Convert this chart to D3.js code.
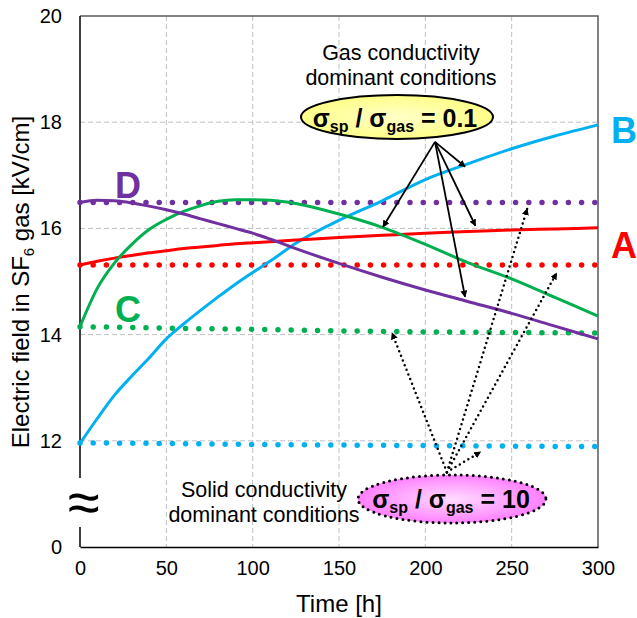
<!DOCTYPE html>
<html>
<head>
<meta charset="utf-8">
<script src="https://cdn.jsdelivr.net/npm/d3@7"></script>
<style>
  body { margin: 0; background: #fff; }
  svg { display: block; font-family: Arial, "Liberation Sans", sans-serif; }
  .grid line { stroke: #c0c0c0; stroke-dasharray: 5 3; stroke-width: 1; }
</style>
</head>
<body>
<svg id="chart" width="637" height="618"></svg>
<script>
// time axis [h]
const hours = [0, 10, 20, 30, 40, 50, 60, 70, 80, 90, 100, 110, 125, 150, 175, 200, 225, 250, 275, 300];
// solid curves: gas conductivity dominant (sigma_sp / sigma_gas = 0.1)
const seriesA = [15.31, 15.38, 15.44, 15.49, 15.54, 15.58, 15.62, 15.65, 15.68, 15.71, 15.73, 15.75, 15.78, 15.83, 15.87, 15.91, 15.94, 15.97, 15.99, 16.01];
const seriesB = [11.95, 12.42, 12.86, 13.22, 13.56, 13.92, 14.2, 14.46, 14.71, 14.95, 15.17, 15.38, 15.72, 16.15, 16.52, 16.92, 17.22, 17.5, 17.74, 17.95];
const seriesC = [14.15, 14.87, 15.35, 15.7, 15.98, 16.17, 16.32, 16.43, 16.51, 16.54, 16.54, 16.53, 16.47, 16.27, 16.02, 15.7, 15.35, 15.05, 14.7, 14.35];
const seriesD = [16.49, 16.53, 16.52, 16.48, 16.42, 16.35, 16.27, 16.18, 16.09, 16.0, 15.91, 15.8, 15.62, 15.34, 15.08, 14.84, 14.62, 14.4, 14.16, 13.92];
// dotted curves: solid conductivity dominant (sigma_sp / sigma_gas = 10)
const dotHours = [0, 50, 100, 150, 200, 250, 300];
const dottedA = [15.31, 15.31, 15.31, 15.31, 15.31, 15.31, 15.31];
const dottedB = [11.96, 11.95, 11.93, 11.92, 11.91, 11.9, 11.89];
const dottedC = [14.15, 14.12, 14.1, 14.07, 14.05, 14.04, 14.03];
const dottedD = [16.49, 16.49, 16.49, 16.49, 16.49, 16.49, 16.49];
// tick labels (the bottom of the y axis is broken, 10 is shown as 0)
const xTicks = [0, 50, 100, 150, 200, 250, 300];
const yTicks = [10, 12, 14, 16, 18, 20];
const yTickLabels = ["0", "12", "14", "16", "18", "20"];

const colors = { A: "#ff0000", B: "#00b0f0", C: "#00b050", D: "#7030a0" };

const svg = d3.select("#chart");
const plotLeft = 80, plotRight = 598, plotTop = 16, plotBottom = 547;

const x = d3.scaleLinear().domain([0, 300]).range([plotLeft, plotRight]);
const y = d3.scaleLinear().domain([10, 20]).range([plotBottom, plotTop]);

const defs = svg.append("defs");
defs.append("marker")
  .attr("id", "head")
  .attr("viewBox", "0 0 10 10")
  .attr("refX", 9).attr("refY", 5)
  .attr("markerWidth", 7).attr("markerHeight", 7)
  .attr("markerUnits", "userSpaceOnUse")
  .attr("orient", "auto")
  .append("path").attr("d", "M0,0 L10,5 L0,10 z").attr("fill", "#000");

const yellow = defs.append("radialGradient").attr("id", "yellowFill");
yellow.append("stop").attr("offset", "0%").attr("stop-color", "#ffffc8");
yellow.append("stop").attr("offset", "100%").attr("stop-color", "#ffff88");
const pink = defs.append("radialGradient").attr("id", "pinkFill");
pink.append("stop").attr("offset", "0%").attr("stop-color", "#ffdcff");
pink.append("stop").attr("offset", "100%").attr("stop-color", "#ff80ff");

// grid
svg.append("g").attr("class", "grid")
  .selectAll("line").data(xTicks.filter(d => d > 0 && d < 300)).join("line")
  .attr("x1", d => x(d)).attr("x2", d => x(d))
  .attr("y1", plotTop).attr("y2", plotBottom);
svg.append("g").attr("class", "grid")
  .selectAll("line").data(yTicks.filter(d => d > 10 && d < 20)).join("line")
  .attr("x1", plotLeft).attr("x2", plotRight)
  .attr("y1", d => y(d)).attr("y2", d => y(d));

// frame
svg.append("path")
  .attr("d", `M${plotLeft},${plotTop}H${plotRight}V${plotBottom}`)
  .attr("fill", "none").attr("stroke", "#595959").attr("stroke-width", 1.5);

// axes
const xAxis = svg.append("g")
  .attr("transform", `translate(0,${plotBottom})`)
  .call(d3.axisBottom(x).tickValues(xTicks).tickSize(0).tickPadding(14));
xAxis.select(".domain").attr("stroke", "#000").attr("stroke-width", 1.5);
xAxis.selectAll("text").attr("font-size", 20).attr("fill", "#000").attr("font-family", null);

const yAxis = svg.append("g")
  .attr("transform", `translate(${plotLeft},0)`)
  .call(d3.axisLeft(y).tickValues(yTicks).tickSize(0).tickPadding(18)
    .tickFormat((d, i) => yTickLabels[i]));
yAxis.select(".domain").remove();
yAxis.selectAll("text").attr("font-size", 20).attr("fill", "#000").attr("font-family", null);

// broken left axis line
const breakTop = 478, breakBottom = 527;
svg.append("path")
  .attr("d", `M${plotLeft},${plotTop}V${breakTop}M${plotLeft},${breakBottom}V${plotBottom}`)
  .attr("stroke", "#000").attr("stroke-width", 1.5);
svg.append("text")
  .attr("x", plotLeft + 4).attr("y", (breakTop + breakBottom) / 2 + 19)
  .attr("text-anchor", "middle")
  .attr("font-size", 58)
  .text("\u2248");

// dotted lines first, solid curves on top
const line = (xs) => d3.line().x((d, i) => x(xs[i])).y(d => y(d));

[[dottedD, colors.D], [dottedA, colors.A], [dottedC, colors.C], [dottedB, colors.B]].forEach(([vals, c]) => {
  svg.append("path")
    .datum(vals)
    .attr("d", line(dotHours))
    .attr("fill", "none")
    .attr("stroke", c)
    .attr("stroke-width", 5.5)
    .attr("stroke-linecap", "round")
    .attr("stroke-dasharray", "0 13.2");
});

[[seriesB, colors.B], [seriesA, colors.A], [seriesC, colors.C], [seriesD, colors.D]].forEach(([vals, c]) => {
  svg.append("path")
    .datum(vals)
    .attr("d", line(hours).curve(d3.curveMonotoneX))
    .attr("fill", "none")
    .attr("stroke", c)
    .attr("stroke-width", 3);
});

// curve labels
const curveLabels = [
  { name: "D", t: 27.8, v: 16.58, anchor: "middle" },
  { name: "C", t: 27.8, v: 14.23, anchor: "middle" },
  { name: "B", t: 307.5, v: 17.6, anchor: "start" },
  { name: "A", t: 307.5, v: 15.44, anchor: "start" }
];
svg.selectAll(".curve-label").data(curveLabels).join("text")
  .attr("class", "curve-label")
  .attr("x", d => x(d.t)).attr("y", d => y(d.v))
  .attr("text-anchor", d => d.anchor)
  .attr("font-size", 36).attr("font-weight", "bold")
  .attr("fill", d => colors[d.name])
  .text(d => d.name);

// annotation: gas conductivity dominant
svg.append("text")
  .attr("text-anchor", "middle").attr("font-size", 21.5)
  .selectAll("tspan").data(["Gas conductivity", "dominant conditions"]).join("tspan")
  .attr("x", 401).attr("y", (d, i) => 60 + i * 25)
  .text(d => d);

const gasArrowFrom = { t: 205.6, v: 17.63 };
const gasArrowTo = [
  { t: 175.5, v: 16.03 },
  { t: 223, v: 17.16 },
  { t: 229, v: 16.05 },
  { t: 223, v: 14.71 }
];
svg.selectAll(".gas-arrow").data(gasArrowTo).join("line")
  .attr("class", "gas-arrow")
  .attr("x1", x(gasArrowFrom.t)).attr("y1", y(gasArrowFrom.v))
  .attr("x2", d => x(d.t)).attr("y2", d => y(d.v))
  .attr("stroke", "#000").attr("stroke-width", 1.8)
  .attr("marker-end", "url(#head)");

function sigmaLabel(cx, baseline, value) {
  const t = svg.append("text")
    .attr("x", cx).attr("y", baseline)
    .attr("text-anchor", "middle")
    .attr("font-weight", "bold").attr("font-size", 25);
  t.append("tspan").text("\u03c3");
  t.append("tspan").attr("font-size", 16).attr("dy", 5).text("sp");
  t.append("tspan").attr("dy", -5).text(" / \u03c3");
  t.append("tspan").attr("font-size", 16).attr("dy", 5).text("gas");
  t.append("tspan").attr("dy", -5).text(" = " + value);
}

svg.append("ellipse")
  .attr("cx", 397).attr("cy", 117).attr("rx", 96).attr("ry", 22)
  .attr("fill", "url(#yellowFill)").attr("stroke", "#000").attr("stroke-width", 2);
sigmaLabel(395, 127, "0.1");

// annotation: solid conductivity dominant
svg.append("text")
  .attr("text-anchor", "middle").attr("font-size", 21.5)
  .selectAll("tspan").data(["Solid conductivity", "dominant conditions"]).join("tspan")
  .attr("x", 264).attr("y", (d, i) => 497 + i * 25)
  .text(d => d);

const solidArrowFrom = { t: 212.5, v: 11.41 };
const solidArrowTo = [
  { t: 180.7, v: 14.03 },
  { t: 232, v: 11.79 },
  { t: 259, v: 16.37 },
  { t: 276, v: 15.16 }
];
svg.selectAll(".solid-arrow").data(solidArrowTo).join("line")
  .attr("class", "solid-arrow")
  .attr("x1", x(solidArrowFrom.t)).attr("y1", y(solidArrowFrom.v))
  .attr("x2", d => x(d.t)).attr("y2", d => y(d.v))
  .attr("stroke", "#000").attr("stroke-width", 2.5)
  .attr("stroke-linecap", "round")
  .attr("stroke-dasharray", "0 5")
  .attr("marker-end", "url(#head)");

svg.append("ellipse")
  .attr("cx", 452).attr("cy", 499).attr("rx", 94).attr("ry", 24)
  .attr("fill", "url(#pinkFill)").attr("stroke", "#000").attr("stroke-width", 3)
  .attr("stroke-linecap", "round").attr("stroke-dasharray", "0 6");
sigmaLabel(451, 508, "10");

// axis titles
svg.append("text")
  .attr("x", 339).attr("y", 612)
  .attr("text-anchor", "middle").attr("font-size", 24)
  .text("Time [h]");

const yTitle = svg.append("text")
  .attr("transform", "translate(29,282) rotate(-90)")
  .attr("text-anchor", "middle").attr("font-size", 24);
yTitle.append("tspan").text("Electric field in SF");
yTitle.append("tspan").attr("font-size", 15).attr("dy", 5).text("6");
yTitle.append("tspan").attr("dy", -5).text(" gas [kV/cm]");
</script>
</body>
</html>
